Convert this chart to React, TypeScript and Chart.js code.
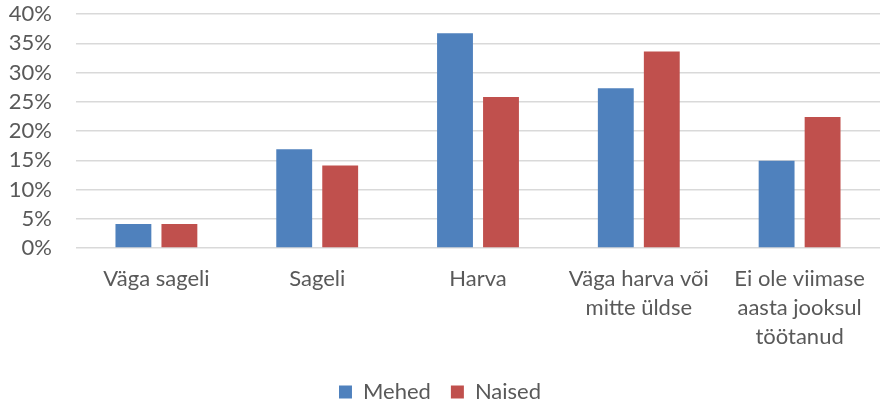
import React, { useEffect, useRef } from "react";
import { Chart, registerables } from "chart.js";

Chart.register(...registerables);

const categories: (string | string[])[] = [
  "Väga sageli",
  "Sageli",
  "Harva",
  ["Väga harva või", "mitte üldse"],
  ["Ei ole viimase", "aasta jooksul", "töötanud"],
];
const mehed = [4.1, 16.9, 36.7, 27.3, 14.9];
const naised = [4.1, 14.1, 25.8, 33.6, 22.4];
const seriesNames = ["Mehed", "Naised"];

const FONT = "Lato, 'Open Sans', sans-serif";
const TEXT = "#595959";
const FS = 22;

export default function App() {
  const ref = useRef<HTMLCanvasElement | null>(null);
  useEffect(() => {
    document.body.style.margin = "0";
    const canvas = ref.current;
    if (!canvas) return;
    const chart = new Chart(canvas, {
      type: "bar",
      data: {
        labels: categories,
        datasets: [
          { label: seriesNames[0], data: mehed, backgroundColor: "#4F81BD", borderWidth: 0 },
          { label: seriesNames[1], data: naised, backgroundColor: "#C0504D", borderWidth: 0 },
        ],
      },
      options: {
        animation: false,
        responsive: false,
        devicePixelRatio: 1,
        layout: { padding: { left: 0, right: 5, top: 14, bottom: -10 } },
        datasets: { bar: { categoryPercentage: 0.572, barPercentage: 0.78 } },
        plugins: {
          tooltip: { enabled: false },
          legend: {
            position: "bottom",
            labels: {
              color: TEXT,
              font: { family: FONT, size: FS },
              boxWidth: 13,
              boxHeight: 13,
              padding: 20,
            },
          },
        },
        scales: {
          x: {
            grid: { display: false },
            border: { display: false },
            ticks: {
              color: TEXT,
              font: { family: FONT, size: FS, lineHeight: 29 / FS },
              padding: 8,
              maxRotation: 0,
              autoSkip: false,
            },
            afterFit: (s: any) => {
              s.height = 113;
            },
          },
          y: {
            min: 0,
            max: 40,
            border: { display: false },
            grid: { color: "#d9d9d9", lineWidth: 1.5, drawTicks: false },
            ticks: {
              stepSize: 5,
              autoSkip: false,
              color: TEXT,
              font: { family: FONT, size: FS },
              padding: 24,
              callback: (v: any) => v + "%",
            },
            afterFit: (s: any) => {
              s.width = 76;
              s.paddingTop = 0;
              s.paddingBottom = 0;
            },
          },
        },
      },
    });
    return () => chart.destroy();
  }, []);
  return (
    <div style={{ width: 885, height: 403 }}>
      <canvas ref={ref} width={885} height={403} />
    </div>
  );
}
